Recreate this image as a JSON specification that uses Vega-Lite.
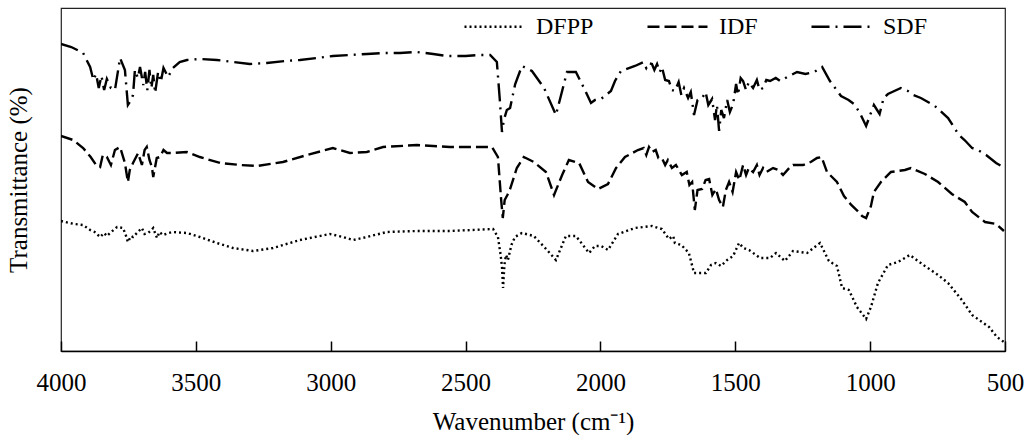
{
  "$schema": "https://vega.github.io/schema/vega-lite/v6.json",
  "width": 944,
  "height": 343,
  "autosize": {"type": "none"},
  "padding": {"left": 61, "top": 8, "right": 23, "bottom": 84},
  "config": {
    "font": "Liberation Serif",
    "view": {"stroke": "#222", "strokeWidth": 1.2},
    "axis": {"labelFont": "Liberation Serif", "titleFont": "Liberation Serif", "labelColor": "#000", "titleColor": "#000", "titleFontWeight": "normal"},
    "legend": {"labelFont": "Liberation Serif", "labelColor": "#000"}
  },
  "data": {"values": [
    {"s":"SDF","w":4000,"t":307},{"s":"SDF","w":3962,"t":304},{"s":"SDF","w":3918,"t":298},{"s":"SDF","w":3892,"t":284},{"s":"SDF","w":3880,"t":271},{"s":"SDF","w":3870,"t":277},{"s":"SDF","w":3860,"t":263},{"s":"SDF","w":3850,"t":275},{"s":"SDF","w":3840,"t":261},{"s":"SDF","w":3830,"t":272},{"s":"SDF","w":3815,"t":263},{"s":"SDF","w":3800,"t":261},{"s":"SDF","w":3781,"t":293},{"s":"SDF","w":3763,"t":281},{"s":"SDF","w":3752,"t":246},{"s":"SDF","w":3740,"t":251},{"s":"SDF","w":3733,"t":256},{"s":"SDF","w":3726,"t":281},{"s":"SDF","w":3715,"t":273},{"s":"SDF","w":3707,"t":284},{"s":"SDF","w":3695,"t":266},{"s":"SDF","w":3688,"t":279},{"s":"SDF","w":3680,"t":261},{"s":"SDF","w":3672,"t":281},{"s":"SDF","w":3665,"t":263},{"s":"SDF","w":3658,"t":276},{"s":"SDF","w":3651,"t":258},{"s":"SDF","w":3640,"t":279},{"s":"SDF","w":3630,"t":269},{"s":"SDF","w":3620,"t":283},{"s":"SDF","w":3603,"t":274},{"s":"SDF","w":3585,"t":283},{"s":"SDF","w":3560,"t":289},{"s":"SDF","w":3533,"t":291},{"s":"SDF","w":3485,"t":292},{"s":"SDF","w":3422,"t":291},{"s":"SDF","w":3362,"t":289},{"s":"SDF","w":3300,"t":287},{"s":"SDF","w":3237,"t":288},{"s":"SDF","w":3170,"t":290},{"s":"SDF","w":3114,"t":291},{"s":"SDF","w":3050,"t":293},{"s":"SDF","w":2992,"t":295},{"s":"SDF","w":2930,"t":296},{"s":"SDF","w":2866,"t":297},{"s":"SDF","w":2800,"t":298},{"s":"SDF","w":2743,"t":298},{"s":"SDF","w":2680,"t":299},{"s":"SDF","w":2620,"t":297},{"s":"SDF","w":2569,"t":295},{"s":"SDF","w":2500,"t":295},{"s":"SDF","w":2450,"t":296},{"s":"SDF","w":2409,"t":296},{"s":"SDF","w":2384,"t":289},{"s":"SDF","w":2373,"t":251},{"s":"SDF","w":2365,"t":219},{"s":"SDF","w":2358,"t":231},{"s":"SDF","w":2347,"t":241},{"s":"SDF","w":2335,"t":243},{"s":"SDF","w":2316,"t":267},{"s":"SDF","w":2291,"t":285},{"s":"SDF","w":2254,"t":280},{"s":"SDF","w":2209,"t":263},{"s":"SDF","w":2165,"t":236},{"s":"SDF","w":2142,"t":260},{"s":"SDF","w":2124,"t":279},{"s":"SDF","w":2091,"t":279},{"s":"SDF","w":2061,"t":263},{"s":"SDF","w":2035,"t":248},{"s":"SDF","w":2020,"t":251},{"s":"SDF","w":1998,"t":252},{"s":"SDF","w":1961,"t":260},{"s":"SDF","w":1946,"t":270},{"s":"SDF","w":1924,"t":280},{"s":"SDF","w":1872,"t":285},{"s":"SDF","w":1840,"t":289},{"s":"SDF","w":1830,"t":283},{"s":"SDF","w":1820,"t":288},{"s":"SDF","w":1809,"t":287},{"s":"SDF","w":1800,"t":281},{"s":"SDF","w":1790,"t":287},{"s":"SDF","w":1780,"t":279},{"s":"SDF","w":1772,"t":284},{"s":"SDF","w":1760,"t":271},{"s":"SDF","w":1746,"t":270},{"s":"SDF","w":1735,"t":261},{"s":"SDF","w":1724,"t":260},{"s":"SDF","w":1710,"t":269},{"s":"SDF","w":1700,"t":256},{"s":"SDF","w":1690,"t":263},{"s":"SDF","w":1675,"t":253},{"s":"SDF","w":1665,"t":259},{"s":"SDF","w":1653,"t":236},{"s":"SDF","w":1640,"t":251},{"s":"SDF","w":1623,"t":253},{"s":"SDF","w":1610,"t":259},{"s":"SDF","w":1600,"t":246},{"s":"SDF","w":1586,"t":252},{"s":"SDF","w":1575,"t":231},{"s":"SDF","w":1568,"t":246},{"s":"SDF","w":1560,"t":220},{"s":"SDF","w":1552,"t":241},{"s":"SDF","w":1542,"t":233},{"s":"SDF","w":1530,"t":251},{"s":"SDF","w":1520,"t":239},{"s":"SDF","w":1508,"t":247},{"s":"SDF","w":1497,"t":267},{"s":"SDF","w":1490,"t":256},{"s":"SDF","w":1480,"t":273},{"s":"SDF","w":1471,"t":270},{"s":"SDF","w":1460,"t":261},{"s":"SDF","w":1450,"t":269},{"s":"SDF","w":1434,"t":263},{"s":"SDF","w":1420,"t":271},{"s":"SDF","w":1410,"t":261},{"s":"SDF","w":1397,"t":263},{"s":"SDF","w":1385,"t":271},{"s":"SDF","w":1371,"t":270},{"s":"SDF","w":1350,"t":273},{"s":"SDF","w":1334,"t":270},{"s":"SDF","w":1300,"t":275},{"s":"SDF","w":1271,"t":279},{"s":"SDF","w":1240,"t":277},{"s":"SDF","w":1208,"t":279},{"s":"SDF","w":1178,"t":284},{"s":"SDF","w":1149,"t":270},{"s":"SDF","w":1108,"t":255},{"s":"SDF","w":1080,"t":251},{"s":"SDF","w":1060,"t":247},{"s":"SDF","w":1040,"t":239},{"s":"SDF","w":1015,"t":225},{"s":"SDF","w":1000,"t":236},{"s":"SDF","w":986,"t":246},{"s":"SDF","w":965,"t":237},{"s":"SDF","w":950,"t":253},{"s":"SDF","w":934,"t":257},{"s":"SDF","w":886,"t":263},{"s":"SDF","w":860,"t":260},{"s":"SDF","w":840,"t":256},{"s":"SDF","w":812,"t":253},{"s":"SDF","w":760,"t":245},{"s":"SDF","w":711,"t":233},{"s":"SDF","w":671,"t":216},{"s":"SDF","w":650,"t":211},{"s":"SDF","w":622,"t":203},{"s":"SDF","w":600,"t":201},{"s":"SDF","w":570,"t":196},{"s":"SDF","w":533,"t":188},{"s":"SDF","w":500,"t":183},
    {"s":"IDF","w":4000,"t":215},{"s":"IDF","w":3955,"t":211},{"s":"IDF","w":3918,"t":203},{"s":"IDF","w":3890,"t":194},{"s":"IDF","w":3870,"t":186},{"s":"IDF","w":3855,"t":184},{"s":"IDF","w":3845,"t":196},{"s":"IDF","w":3830,"t":194},{"s":"IDF","w":3815,"t":186},{"s":"IDF","w":3800,"t":201},{"s":"IDF","w":3781,"t":204},{"s":"IDF","w":3763,"t":188},{"s":"IDF","w":3752,"t":169},{"s":"IDF","w":3745,"t":181},{"s":"IDF","w":3733,"t":188},{"s":"IDF","w":3714,"t":198},{"s":"IDF","w":3700,"t":186},{"s":"IDF","w":3690,"t":201},{"s":"IDF","w":3682,"t":204},{"s":"IDF","w":3672,"t":191},{"s":"IDF","w":3663,"t":184},{"s":"IDF","w":3658,"t":174},{"s":"IDF","w":3645,"t":193},{"s":"IDF","w":3633,"t":194},{"s":"IDF","w":3620,"t":201},{"s":"IDF","w":3607,"t":198},{"s":"IDF","w":3585,"t":198},{"s":"IDF","w":3533,"t":199},{"s":"IDF","w":3485,"t":194},{"s":"IDF","w":3410,"t":188},{"s":"IDF","w":3336,"t":186},{"s":"IDF","w":3274,"t":185},{"s":"IDF","w":3177,"t":189},{"s":"IDF","w":3088,"t":196},{"s":"IDF","w":2992,"t":203},{"s":"IDF","w":2929,"t":198},{"s":"IDF","w":2866,"t":199},{"s":"IDF","w":2806,"t":204},{"s":"IDF","w":2680,"t":206},{"s":"IDF","w":2558,"t":204},{"s":"IDF","w":2402,"t":204},{"s":"IDF","w":2380,"t":194},{"s":"IDF","w":2368,"t":151},{"s":"IDF","w":2362,"t":133},{"s":"IDF","w":2355,"t":151},{"s":"IDF","w":2345,"t":156},{"s":"IDF","w":2335,"t":162},{"s":"IDF","w":2310,"t":183},{"s":"IDF","w":2284,"t":194},{"s":"IDF","w":2247,"t":189},{"s":"IDF","w":2202,"t":179},{"s":"IDF","w":2172,"t":156},{"s":"IDF","w":2142,"t":176},{"s":"IDF","w":2117,"t":191},{"s":"IDF","w":2079,"t":188},{"s":"IDF","w":2046,"t":169},{"s":"IDF","w":2009,"t":162},{"s":"IDF","w":1972,"t":167},{"s":"IDF","w":1942,"t":183},{"s":"IDF","w":1909,"t":194},{"s":"IDF","w":1861,"t":201},{"s":"IDF","w":1840,"t":203},{"s":"IDF","w":1830,"t":196},{"s":"IDF","w":1820,"t":204},{"s":"IDF","w":1809,"t":199},{"s":"IDF","w":1795,"t":201},{"s":"IDF","w":1785,"t":193},{"s":"IDF","w":1772,"t":193},{"s":"IDF","w":1760,"t":186},{"s":"IDF","w":1750,"t":191},{"s":"IDF","w":1735,"t":183},{"s":"IDF","w":1720,"t":186},{"s":"IDF","w":1698,"t":176},{"s":"IDF","w":1680,"t":179},{"s":"IDF","w":1670,"t":166},{"s":"IDF","w":1660,"t":169},{"s":"IDF","w":1650,"t":141},{"s":"IDF","w":1640,"t":161},{"s":"IDF","w":1623,"t":162},{"s":"IDF","w":1610,"t":171},{"s":"IDF","w":1597,"t":172},{"s":"IDF","w":1585,"t":156},{"s":"IDF","w":1572,"t":162},{"s":"IDF","w":1560,"t":151},{"s":"IDF","w":1546,"t":144},{"s":"IDF","w":1535,"t":161},{"s":"IDF","w":1523,"t":169},{"s":"IDF","w":1510,"t":159},{"s":"IDF","w":1497,"t":179},{"s":"IDF","w":1485,"t":171},{"s":"IDF","w":1471,"t":186},{"s":"IDF","w":1460,"t":176},{"s":"IDF","w":1450,"t":183},{"s":"IDF","w":1434,"t":179},{"s":"IDF","w":1420,"t":186},{"s":"IDF","w":1410,"t":176},{"s":"IDF","w":1397,"t":183},{"s":"IDF","w":1385,"t":179},{"s":"IDF","w":1360,"t":183},{"s":"IDF","w":1340,"t":181},{"s":"IDF","w":1323,"t":176},{"s":"IDF","w":1300,"t":183},{"s":"IDF","w":1286,"t":186},{"s":"IDF","w":1249,"t":186},{"s":"IDF","w":1220,"t":189},{"s":"IDF","w":1197,"t":193},{"s":"IDF","w":1180,"t":194},{"s":"IDF","w":1160,"t":179},{"s":"IDF","w":1123,"t":169},{"s":"IDF","w":1097,"t":155},{"s":"IDF","w":1070,"t":146},{"s":"IDF","w":1050,"t":141},{"s":"IDF","w":1030,"t":135},{"s":"IDF","w":1015,"t":133},{"s":"IDF","w":997,"t":145},{"s":"IDF","w":986,"t":159},{"s":"IDF","w":960,"t":169},{"s":"IDF","w":923,"t":179},{"s":"IDF","w":871,"t":181},{"s":"IDF","w":849,"t":183},{"s":"IDF","w":797,"t":177},{"s":"IDF","w":748,"t":169},{"s":"IDF","w":697,"t":157},{"s":"IDF","w":649,"t":149},{"s":"IDF","w":622,"t":139},{"s":"IDF","w":574,"t":129},{"s":"IDF","w":533,"t":127},{"s":"IDF","w":504,"t":120},
    {"s":"DFPP","w":4000,"t":130},{"s":"DFPP","w":3985,"t":129},{"s":"DFPP","w":3950,"t":127},{"s":"DFPP","w":3918,"t":126},{"s":"DFPP","w":3892,"t":121},{"s":"DFPP","w":3875,"t":119},{"s":"DFPP","w":3855,"t":114},{"s":"DFPP","w":3840,"t":118},{"s":"DFPP","w":3830,"t":115},{"s":"DFPP","w":3818,"t":118},{"s":"DFPP","w":3805,"t":121},{"s":"DFPP","w":3792,"t":124},{"s":"DFPP","w":3770,"t":123},{"s":"DFPP","w":3760,"t":116},{"s":"DFPP","w":3752,"t":109},{"s":"DFPP","w":3740,"t":115},{"s":"DFPP","w":3733,"t":114},{"s":"DFPP","w":3715,"t":119},{"s":"DFPP","w":3700,"t":123},{"s":"DFPP","w":3690,"t":117},{"s":"DFPP","w":3677,"t":118},{"s":"DFPP","w":3665,"t":121},{"s":"DFPP","w":3658,"t":123},{"s":"DFPP","w":3650,"t":117},{"s":"DFPP","w":3644,"t":113},{"s":"DFPP","w":3635,"t":119},{"s":"DFPP","w":3622,"t":116},{"s":"DFPP","w":3600,"t":118},{"s":"DFPP","w":3585,"t":119},{"s":"DFPP","w":3533,"t":118},{"s":"DFPP","w":3485,"t":114},{"s":"DFPP","w":3422,"t":108},{"s":"DFPP","w":3362,"t":103},{"s":"DFPP","w":3288,"t":100},{"s":"DFPP","w":3214,"t":103},{"s":"DFPP","w":3114,"t":111},{"s":"DFPP","w":3003,"t":117},{"s":"DFPP","w":2954,"t":114},{"s":"DFPP","w":2917,"t":111},{"s":"DFPP","w":2866,"t":114},{"s":"DFPP","w":2792,"t":119},{"s":"DFPP","w":2680,"t":120},{"s":"DFPP","w":2558,"t":120},{"s":"DFPP","w":2398,"t":122},{"s":"DFPP","w":2380,"t":114},{"s":"DFPP","w":2370,"t":96},{"s":"DFPP","w":2365,"t":84},{"s":"DFPP","w":2361,"t":63},{"s":"DFPP","w":2356,"t":86},{"s":"DFPP","w":2350,"t":96},{"s":"DFPP","w":2343,"t":91},{"s":"DFPP","w":2330,"t":106},{"s":"DFPP","w":2317,"t":114},{"s":"DFPP","w":2291,"t":118},{"s":"DFPP","w":2247,"t":115},{"s":"DFPP","w":2198,"t":101},{"s":"DFPP","w":2165,"t":91},{"s":"DFPP","w":2128,"t":115},{"s":"DFPP","w":2091,"t":115},{"s":"DFPP","w":2042,"t":98},{"s":"DFPP","w":2020,"t":105},{"s":"DFPP","w":1998,"t":105},{"s":"DFPP","w":1972,"t":101},{"s":"DFPP","w":1935,"t":117},{"s":"DFPP","w":1872,"t":123},{"s":"DFPP","w":1809,"t":125},{"s":"DFPP","w":1772,"t":122},{"s":"DFPP","w":1746,"t":112},{"s":"DFPP","w":1730,"t":115},{"s":"DFPP","w":1724,"t":108},{"s":"DFPP","w":1700,"t":106},{"s":"DFPP","w":1672,"t":98},{"s":"DFPP","w":1653,"t":78},{"s":"DFPP","w":1609,"t":78},{"s":"DFPP","w":1590,"t":86},{"s":"DFPP","w":1572,"t":88},{"s":"DFPP","w":1553,"t":85},{"s":"DFPP","w":1530,"t":91},{"s":"DFPP","w":1508,"t":95},{"s":"DFPP","w":1486,"t":108},{"s":"DFPP","w":1470,"t":103},{"s":"DFPP","w":1449,"t":101},{"s":"DFPP","w":1408,"t":93},{"s":"DFPP","w":1371,"t":93},{"s":"DFPP","w":1349,"t":98},{"s":"DFPP","w":1316,"t":90},{"s":"DFPP","w":1286,"t":100},{"s":"DFPP","w":1234,"t":98},{"s":"DFPP","w":1186,"t":108},{"s":"DFPP","w":1153,"t":90},{"s":"DFPP","w":1123,"t":85},{"s":"DFPP","w":1104,"t":63},{"s":"DFPP","w":1079,"t":61},{"s":"DFPP","w":1049,"t":44},{"s":"DFPP","w":1015,"t":32},{"s":"DFPP","w":997,"t":44},{"s":"DFPP","w":971,"t":68},{"s":"DFPP","w":934,"t":86},{"s":"DFPP","w":897,"t":89},{"s":"DFPP","w":853,"t":96},{"s":"DFPP","w":797,"t":85},{"s":"DFPP","w":748,"t":76},{"s":"DFPP","w":711,"t":68},{"s":"DFPP","w":660,"t":51},{"s":"DFPP","w":622,"t":36},{"s":"DFPP","w":559,"t":24},{"s":"DFPP","w":530,"t":14},{"s":"DFPP","w":504,"t":9}
  ]},
  "mark": {"type": "line", "strokeWidth": 2.4, "color": "black", "clip": true},
  "encoding": {
    "x": {
      "field": "w", "type": "quantitative",
      "scale": {"domain": [500, 4000], "reverse": true, "nice": false, "zero": false},
      "axis": {
        "values": [4000, 3500, 3000, 2500, 2000, 1500, 1000, 500],
        "format": "d",
        "title": "Wavenumber (cm⁻¹)",
        "titleFontSize": 25, "titlePadding": 14,
        "labelFontSize": 25, "labelPadding": 29,
        "tickSize": -10, "tickColor": "#000", "tickWidth": 1.5,
        "domainColor": "#000", "domainWidth": 1.6,
        "grid": false, "labelFlush": false, "labelOverlap": false
      }
    },
    "y": {
      "field": "t", "type": "quantitative",
      "scale": {"domain": [0, 343], "nice": false, "zero": false},
      "axis": {
        "title": "Transmittance (%)", "titleFontSize": 25, "titlePadding": 30,
        "labels": false, "ticks": false, "domain": false, "grid": false
      }
    },
    "strokeDash": {
      "field": "s", "type": "nominal",
      "scale": {"domain": ["DFPP", "IDF", "SDF"], "range": [[2, 3], [12, 5], [18, 6, 2, 6]]},
      "legend": {
        "title": null, "orient": "none", "direction": "horizontal", "columns": 3,
        "legendX": 402, "legendY": -13,
        "symbolType": "stroke", "symbolSize": 3600, "symbolStrokeWidth": 2.6, "symbolStrokeColor": "black",
        "labelFontSize": 24, "labelOffset": 10, "columnPadding": 48
      }
    }
  }
}
